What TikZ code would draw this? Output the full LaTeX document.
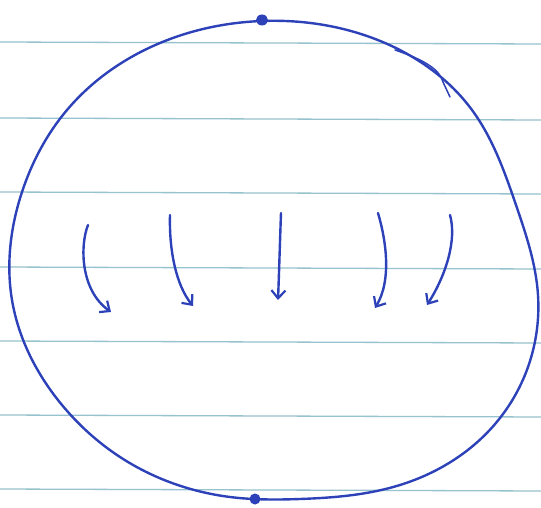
\documentclass[tikz,border=0pt]{standalone}
\usetikzlibrary{arrows.meta,hobby}
\definecolor{pen}{RGB}{45,65,185}
\definecolor{rule}{RGB}{150,195,205}
\tikzset{
  paperline/.style={rule, line width=1.3pt},
  ink/.style={pen, line width=2.4pt, line cap=round, line join=round},
  flow/.style={ink, -{Straight Barb[length=8pt,width=14pt,line width=2.2pt]}},
  inkdot/.style={pen, fill=pen}
}
\begin{document}
\begin{tikzpicture}[x=1pt,y=-1pt]
\useasboundingbox (0,0) rectangle (541,508);
\fill[white] (0,0) rectangle (541,508);
% ruled paper
\foreach \yy in {42,118,192,267,341,415,489}
  \draw[paperline] (0,\yy) -- (541,\yy+2);
% outline
\draw[ink, use Hobby shortcut, closed=true]
  (262,21) .. (385,43) .. (472,110) .. (516,205) .. (538,295) .. (500,418)
  .. (400,485) .. (300,499) .. (230,497) .. (120,457) .. (62,405)
  .. (12,300) .. (22,192) .. (67,110) .. (160,43);
% doubled stroke at upper right
\draw[ink, line width=1.5pt] (395,50) .. controls (425,60) and (440,70) .. (443,82) -- (450,97);
% dots
\coordinate (top) at (262,20);
\coordinate (bot) at (255,499);
\fill[inkdot] (top) ellipse (6pt and 5.5pt);
\fill[inkdot] (bot) circle (5.5pt);
% arrows
\coordinate (a1s) at (88,225); \coordinate (a1e) at (111,312);
\coordinate (a2s) at (170,215); \coordinate (a2e) at (193,306);
\coordinate (a3s) at (281,213); \coordinate (a3e) at (278,300);
\coordinate (a4s) at (378,213); \coordinate (a4e) at (375,308);
\coordinate (a5s) at (450,215); \coordinate (a5e) at (427,305);
\draw[flow] (a1s) .. controls (80,245) and (80,290) .. (a1e);
\draw[flow] (a2s) .. controls (169,250) and (176,285) .. (a2e);
\draw[flow] (a3s) .. controls (280,240) and (279,275) .. (a3e);
\draw[flow] (a4s) .. controls (386,240) and (392,280) .. (a4e);
\draw[flow] (a5s) .. controls (457,240) and (446,275) .. (a5e);
\end{tikzpicture}
\end{document}
